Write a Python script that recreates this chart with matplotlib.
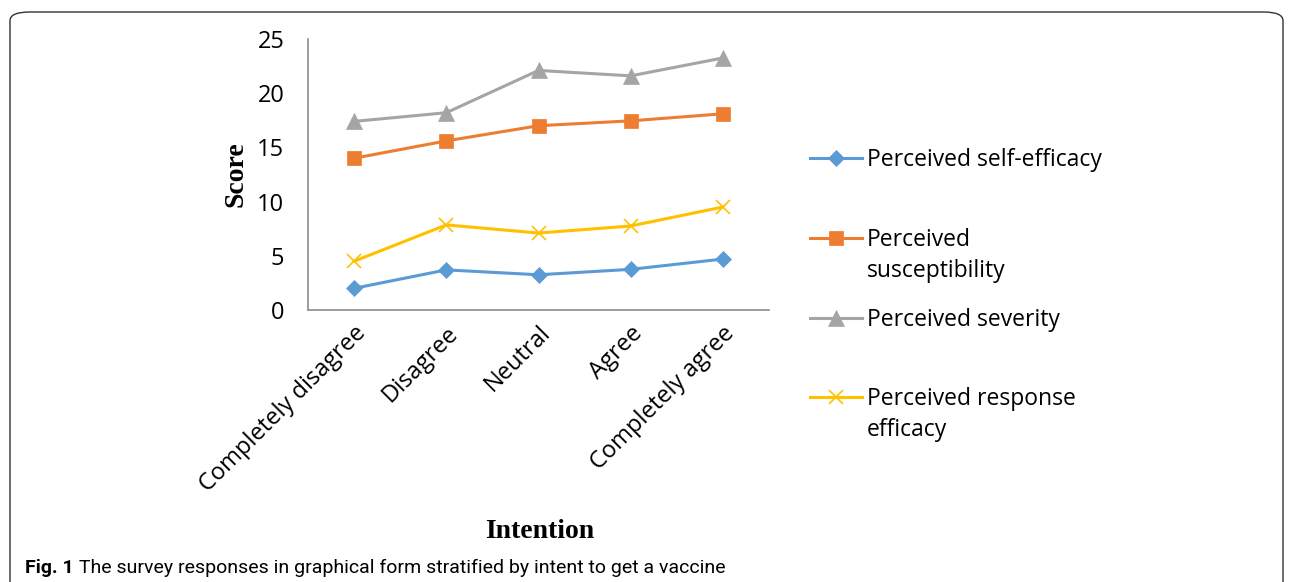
import matplotlib.pyplot as plt
from matplotlib.lines import Line2D
from matplotlib.patches import FancyBboxPatch

categories = ["Completely disagree", "Disagree", "Neutral", "Agree", "Completely agree"]
self_efficacy = [2.0, 3.7, 3.25, 3.75, 4.7]
susceptibility = [14.0, 15.6, 17.0, 17.45, 18.1]
severity = [17.4, 18.2, 22.1, 21.6, 23.25]
response_efficacy = [4.5, 7.85, 7.1, 7.75, 9.5]

series = [
    ("Perceived self-efficacy", self_efficacy, "#5B9BD5", "D", 8),
    ("Perceived\nsusceptibility", susceptibility, "#ED7D31", "s", 10),
    ("Perceived severity", severity, "#A5A5A5", "^", 11),
    ("Perceived response\nefficacy", response_efficacy, "#FFC000", "x", 10),
]

W, H = 1292, 582
FONT = "Open Sans"
fig = plt.figure(figsize=(W / 100, H / 100), dpi=100)
ax = fig.add_axes([308 / W, 1 - 310 / H, (769 - 308) / W, (310 - 39) / H])

x = list(range(len(categories)))
for label, vals, color, marker, ms in series:
    ax.plot(x, vals, color=color, lw=2.2, marker=marker, ms=ms,
            markeredgewidth=1.2 if marker == "x" else 0.5, markeredgecolor=color,
            solid_capstyle="round")

ax.set_xlim(-0.5, len(categories) - 0.5)
ax.set_ylim(0, 25)
ax.set_yticks([0, 5, 10, 15, 20, 25])
ax.set_xticks(x)
ax.set_xticklabels(categories, rotation=45, ha="right", rotation_mode="anchor",
                   fontsize=17, family=FONT)
for t in ax.get_yticklabels():
    t.set_fontsize(17)
    t.set_family(FONT)
ax.tick_params(axis="y", length=0, pad=17)
ax.tick_params(axis="x", length=0, pad=8)
for s in ["top", "right"]:
    ax.spines[s].set_visible(False)
for s in ["left", "bottom"]:
    ax.spines[s].set_color("#8C8C8C")
    ax.spines[s].set_linewidth(1.2)

ax.set_ylabel("Score", fontsize=20, fontweight="bold", family="Liberation Serif",
              labelpad=6)
fig.text(540 / W, 1 - 531 / H, "Intention", fontsize=20, fontweight="bold",
         family="Liberation Serif", ha="center", va="center")

# legend drawn entry by entry (Excel style spacing)
leg_y = [158, 238, 318, 397]
for (label, vals, color, marker, ms), yy in zip(series, leg_y):
    fy = 1 - yy / H
    fig.add_artist(Line2D([810 / W, 836 / W, 862 / W], [fy, fy, fy], color=color,
                          lw=2.2, marker=marker, ms=ms, markevery=[1],
                          markeredgecolor=color,
                          markeredgewidth=1.2 if marker == "x" else 0.5))
    fig.text(867 / W, 1 - (yy - 10) / H, label, fontsize=16.5, family=FONT,
             va="top", ha="left", linespacing=1.4)

# caption
cap1 = fig.text(25 / W, 1 - 568 / H, "Fig. 1", fontsize=14, fontweight="bold",
                family="Roboto", va="center", ha="left")
fig.canvas.draw()
bb = cap1.get_window_extent()
fig.text((bb.x1 + 5) / W, 1 - 568 / H,
         "The survey responses in graphical form stratified by intent to get a vaccine",
         fontsize=14, family="Roboto", va="center", ha="left")

# rounded frame
fig.add_artist(FancyBboxPatch((10 / W, -0.05), (1283 - 10) / W, 1.05 - 12 / H,
                              boxstyle="round,pad=0,rounding_size=0.015",
                              transform=fig.transFigure, fill=False,
                              edgecolor="#333333", lw=1.0))

fig.savefig("out.png", dpi=100)
